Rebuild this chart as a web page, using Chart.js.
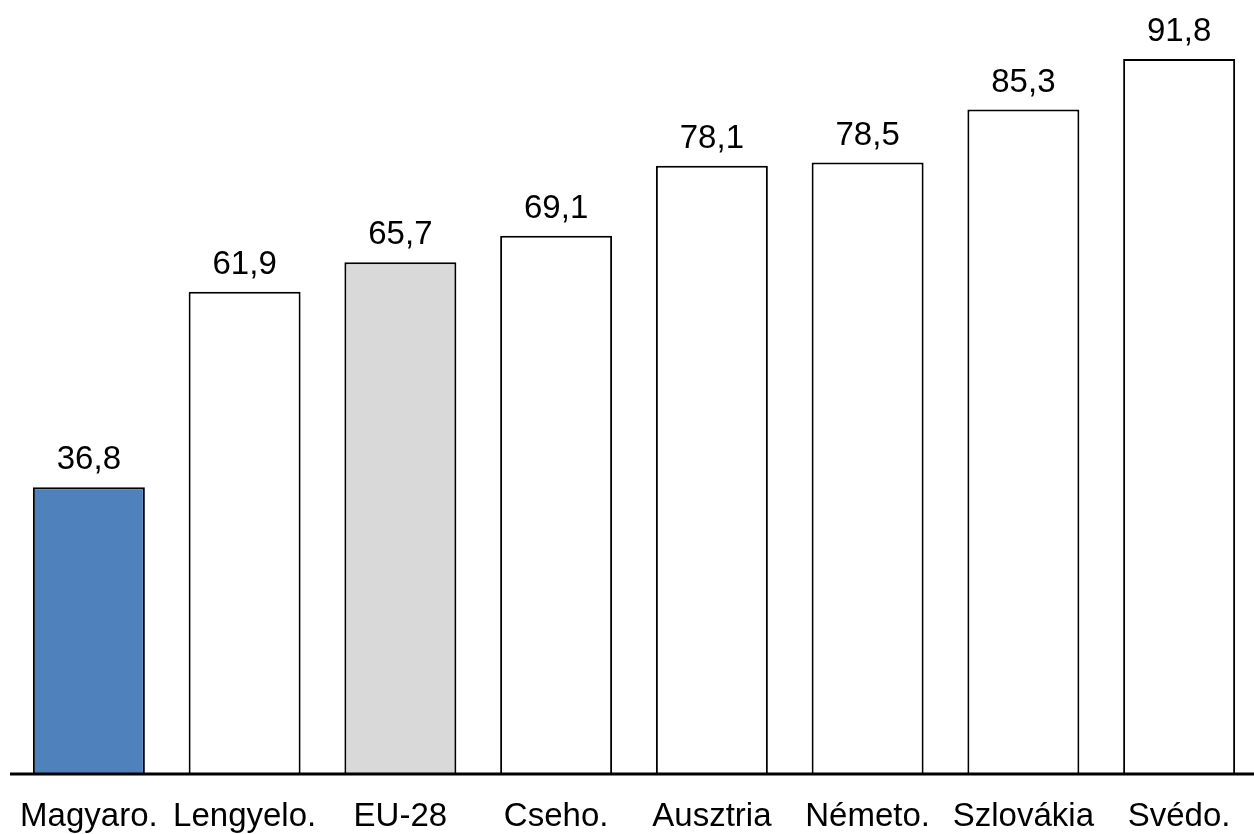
<!DOCTYPE html>
<html>
<head>
<meta charset="utf-8">
<script src="https://cdn.jsdelivr.net/npm/chart.js@4/dist/chart.umd.min.js"></script>
<style>
  html, body { margin: 0; padding: 0; background: #fff; overflow: hidden; }
  #wrap { width: 1257px; height: 834px; }
</style>
</head>
<body>
<div id="wrap"><canvas id="barChart"></canvas></div>
<script>
const categories = ["Magyaro.", "Lengyelo.", "EU-28", "Cseho.", "Ausztria", "Németo.", "Szlovákia", "Svédo."];
const values = [36.8, 61.9, 65.7, 69.1, 78.1, 78.5, 85.3, 91.8];
const barColors = ["#4F81BD", "#FFFFFF", "#D9D9D9", "#FFFFFF", "#FFFFFF", "#FFFFFF", "#FFFFFF", "#FFFFFF"];

const FONT = "'Liberation Sans', Arial, sans-serif";

// value labels above bars, category labels under the axis, baseline drawn over the bars
const barText = {
  id: "barText",
  afterDatasetsDraw(chart) {
    const c = chart.ctx;
    const area = chart.chartArea;
    const xScale = chart.scales.x;
    const meta = chart.getDatasetMeta(0);
    c.save();
    c.fillStyle = "#000";
    c.textAlign = "center";
    c.textBaseline = "alphabetic";

    c.font = "33px " + FONT;
    meta.data.forEach((bar, i) => {
      c.fillText(values[i].toFixed(1).replace(".", ","), bar.x, bar.y - 18);
    });

    c.font = "33px " + FONT;
    chart.data.labels.forEach((lbl, i) => {
      c.fillText(lbl, xScale.getPixelForValue(i), area.bottom + 52);
    });

    c.strokeStyle = "#000";
    c.lineWidth = 3;
    c.beginPath();
    c.moveTo(area.left - 1, area.bottom);
    c.lineTo(area.right, area.bottom);
    c.stroke();
    c.restore();
  }
};

new Chart(document.getElementById("barChart"), {
  type: "bar",
  data: {
    labels: categories,
    datasets: [{
      data: values,
      backgroundColor: barColors,
      borderColor: "#000",
      borderWidth: 2,
      borderSkipped: "bottom",
      categoryPercentage: 0.719,
      barPercentage: 1
    }]
  },
  options: {
    responsive: true,
    maintainAspectRatio: false,
    animation: false,
    layout: { padding: { left: 11, right: 0, top: 34, bottom: 60 } },
    plugins: { legend: { display: false }, tooltip: { enabled: false } },
    scales: {
      x: {
        grid: { display: false, drawTicks: false },
        border: { display: false },
        ticks: { display: false }
      },
      y: {
        display: false,
        min: 0,
        max: 95
      }
    }
  },
  plugins: [barText]
});
</script>
</body>
</html>
